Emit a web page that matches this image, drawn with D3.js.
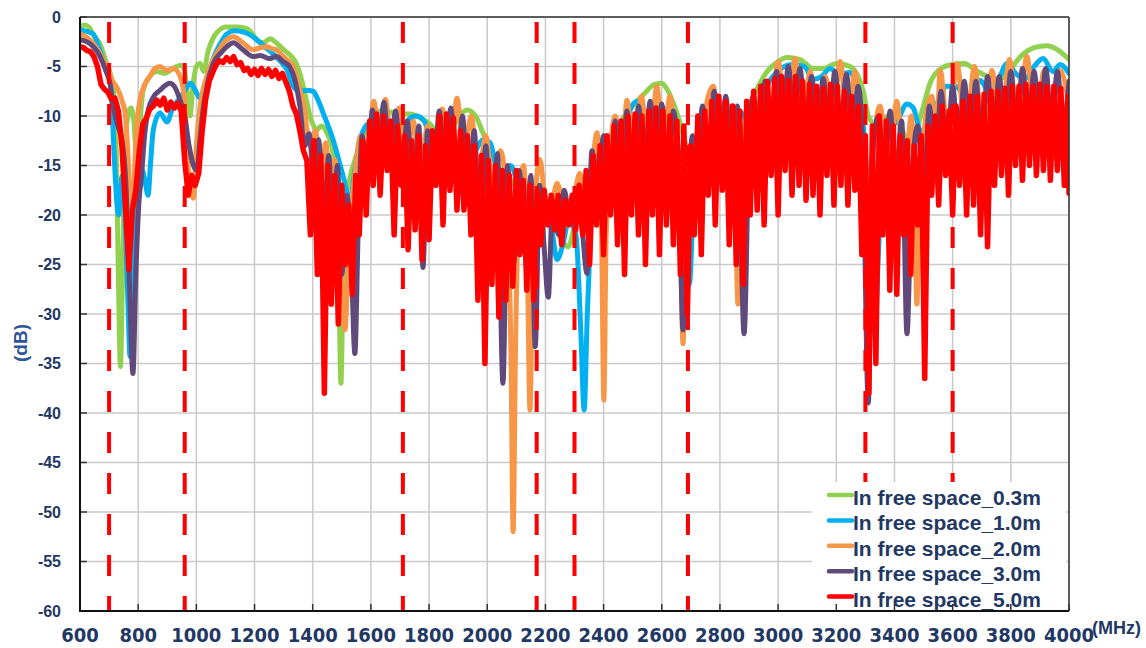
<!DOCTYPE html>
<html>
<head>
<meta charset="utf-8">
<script src="https://cdn.jsdelivr.net/npm/d3@7"></script>
<style>
  html, body { margin: 0; background: #ffffff; }
  svg { display: block; }
</style>
</head>
<body>
<svg id="chart" width="1146" height="648"></svg>
<script>
// Axis ticks
const xTicks = [600, 800, 1000, 1200, 1400, 1600, 1800, 2000, 2200, 2400, 2600, 2800, 3000, 3200, 3400, 3600, 3800, 4000];
const yTicks = [0, -5, -10, -15, -20, -25, -30, -35, -40, -45, -50, -55, -60];

// Band edges marked with dashed red lines (MHz)
const bandEdges = [700, 960, 1710, 2170, 2300, 2690, 3300, 3600];

const seriesNames = ["In free space_0.3m", "In free space_1.0m", "In free space_2.0m", "In free space_3.0m", "In free space_5.0m"];
const seriesColors = ["#92D050", "#00B0F0", "#F79646", "#604A7B", "#FF0000"];

// Measured response, [frequency MHz, level dB]
const space03m = [
  [600,-1.1],[615,-0.8],[630,-1.0],[650,-2.0],[670,-2.8],[690,-4.6],[705,-5.8],[715,-7.5],[725,-14],[733,-28],[739,-35.3],[745,-28],[752,-17],[762,-10.5],[775,-9.2],[785,-10.5],[795,-14],[805,-11],[817,-7.4],[840,-6.0],[864,-5.5],[890,-5.7],[915,-5.3],[944,-4.9],[958,-5.2],[968,-7.5],[978,-10],[988,-7],[1000,-5.0],[1013,-4.7],[1025,-5.5],[1040,-3.5],[1060,-2.0],[1080,-1.3],[1100,-1.0],[1140,-1.0],[1175,-1.2],[1195,-1.8],[1210,-2.4],[1230,-2.6],[1253,-2.2],[1275,-2.6],[1300,-3.3],[1320,-3.8],[1340,-4.5],[1356,-5.7],[1375,-8],[1395,-10.4],[1414,-11.4],[1430,-11],[1450,-11.8],[1468,-13.5],[1480,-17],[1490,-27],[1497,-37],[1504,-27],[1512,-19],[1530,-16],[1550,-14],[1575,-12],[1600,-10.5],[1630,-9.5],[1665,-9.6],[1700,-9.8],[1735,-9.8],[1770,-10.2],[1803,-10.8],[1840,-12],[1880,-11],[1930,-9.4],[1960,-10],[1985,-11.7],[2033,-15],[2080,-16.5],[2130,-18],[2181,-18.8],[2230,-21],[2278,-23.2],[2305,-20.5],[2329,-18.5],[2360,-16.5],[2388,-14.8],[2412,-13.2],[2450,-11],[2500,-9],[2545,-7.6],[2575,-6.8],[2600,-6.7],[2618,-7.3],[2652,-9.7],[2680,-12.5],[2700,-15],[2750,-14.5],[2800,-15],[2845,-16],[2870,-13.5],[2895,-9.5],[2927,-7.3],[2962,-5.5],[3000,-4.5],[3030,-4.1],[3075,-4.3],[3120,-5.2],[3155,-5.2],[3202,-4.7],[3247,-5],[3275,-6],[3292,-7.4],[3310,-10],[3340,-11],[3380,-10],[3420,-11],[3455,-13],[3490,-10],[3525,-6.5],[3560,-5.2],[3600,-4.8],[3640,-4.7],[3680,-5.4],[3720,-6],[3760,-6.3],[3800,-5.2],[3840,-3.8],[3880,-3.1],[3924,-2.9],[3960,-3.3],[4000,-4.3]
];

const space10m = [
  [600,-1.3],[645,-1.7],[670,-3.5],[693,-5.7],[703,-6.4],[710,-9],[716,-13],[725,-18],[733,-20],[740,-17],[746,-16],[755,-20],[765,-29],[772,-34.3],[780,-27],[790,-19],[800,-15],[815,-15.5],[826,-17],[834,-18],[842,-15],[852,-11.4],[875,-9.7],[899,-10.6],[921,-9],[944,-8.2],[965,-7.2],[980,-6.7],[995,-7.3],[1013,-8.2],[1036,-6.4],[1058,-4.2],[1080,-2.8],[1105,-1.7],[1130,-1.4],[1160,-1.5],[1185,-1.8],[1208,-2.3],[1235,-3],[1263,-3.7],[1290,-4.5],[1311,-5.3],[1333,-7],[1356,-7.5],[1380,-7.4],[1401,-7.5],[1420,-8.5],[1436,-9.7],[1470,-12.4],[1504,-16],[1528,-18.5],[1545,-15.5],[1562,-12.4],[1597,-10.7],[1635,-10.8],[1675,-12.5],[1710,-11.5],[1735,-10.2],[1758,-10],[1785,-10.6],[1815,-13.5],[1850,-11.5],[1890,-13],[1930,-14.5],[1960,-13.5],[1985,-12.4],[2010,-12.7],[2040,-16],[2080,-15],[2120,-18],[2160,-17.5],[2200,-19.5],[2222,-21.5],[2240,-24.5],[2260,-23],[2280,-20.5],[2305,-22],[2322,-32],[2333,-39.7],[2344,-30],[2355,-22],[2375,-15],[2400,-12.5],[2430,-12],[2460,-14],[2490,-9.5],[2515,-8.5],[2540,-9.5],[2565,-12.5],[2600,-9.2],[2630,-10],[2660,-14],[2680,-20],[2695,-27],[2710,-18],[2740,-13],[2780,-12],[2815,-12.5],[2845,-10],[2870,-9.6],[2893,-10.5],[2915,-11.5],[2945,-8],[2975,-6.3],[3010,-5.2],[3050,-4.8],[3090,-5.0],[3120,-6.3],[3150,-6.0],[3178,-5.2],[3210,-5.8],[3245,-5.6],[3270,-7],[3293,-11],[3312,-20],[3325,-28],[3333,-32.3],[3342,-26],[3355,-17],[3380,-11.5],[3410,-10.5],[3443,-8.8],[3465,-9.2],[3490,-11.5],[3520,-11],[3550,-8.5],[3580,-7],[3610,-7],[3640,-8],[3665,-8.5],[3694,-6.4],[3730,-7.8],[3760,-6.2],[3787,-4.7],[3820,-5.8],[3850,-6.2],[3880,-5],[3911,-4.2],[3945,-5.5],[3970,-4.8],[4000,-5.7]
];

const space20m = [
  [600,-1.7],[640,-2.5],[669,-3.7],[690,-5],[703,-6.0],[715,-6.6],[730,-7.3],[745,-8.5],[755,-9.6],[765,-14],[775,-20],[785,-17],[795,-11],[806,-8.4],[823,-6.8],[840,-6.0],[858,-5.2],[875,-5.0],[898,-5.4],[921,-5.2],[944,-6.0],[958,-8],[968,-13],[978,-17.5],[990,-18.3],[1000,-13],[1013,-9],[1036,-6],[1058,-4.3],[1085,-3],[1105,-2.3],[1127,-2.0],[1160,-2.6],[1195,-3.3],[1220,-3.1],[1243,-3.0],[1260,-3.2],[1275,-3.3],[1295,-3.9],[1311,-4.3],[1333,-5],[1356,-7.4],[1370,-9],[1390,-13],[1410,-11.5],[1428,-17],[1445,-12.7],[1462,-19],[1477,-14.4],[1495,-24],[1511,-31.6],[1525,-22],[1545,-16],[1565,-12],[1585,-15],[1610,-8.5],[1630,-13],[1650,-8.3],[1672,-14],[1697,-9.2],[1720,-15],[1745,-10.5],[1770,-16],[1795,-11],[1820,-16],[1845,-9.3],[1870,-15],[1896,-8.2],[1920,-14],[1945,-10],[1970,-16],[1995,-12],[2020,-18],[2045,-13.5],[2070,-20],[2082,-35],[2089,-52],[2097,-34],[2110,-18],[2125,-15],[2138,-25],[2147,-39.7],[2156,-25],[2180,-14.4],[2210,-21],[2240,-16.8],[2275,-21],[2300,-18],[2318,-15.8],[2345,-20],[2377,-11.7],[2393,-22],[2401,-38.7],[2409,-22],[2440,-10],[2462,-16],[2480,-8.4],[2505,-15],[2530,-8],[2555,-15],[2583,-7],[2605,-13],[2628,-8],[2650,-16],[2665,-24],[2673,-33],[2681,-24],[2710,-12],[2735,-16],[2755,-8.6],[2777,-7],[2805,-14],[2834,-9],[2852,-18],[2862,-29],[2872,-18],[2890,-13],[2912,-15],[2938,-8.4],[2970,-12],[3000,-4.5],[3030,-11],[3058,-4.2],[3085,-11],[3110,-5.5],[3137,-11],[3162,-6],[3188,-11],[3213,-4.5],[3240,-11],[3264,-5.5],[3285,-13],[3300,-22],[3320,-15],[3350,-9],[3380,-15],[3408,-8.5],[3435,-16],[3458,-10],[3470,-20],[3477,-29],[3484,-20],[3500,-12],[3528,-8],[3545,-12],[3557,-5.4],[3585,-12],[3615,-4.7],[3645,-12],[3675,-5],[3705,-12],[3735,-5.4],[3765,-12],[3795,-4.3],[3825,-11],[3855,-4],[3885,-11],[3915,-5.4],[3945,-12],[3970,-5.4],[4000,-9]
];

const space30m = [
  [600,-2.3],[630,-2.6],[669,-4],[690,-5.5],[703,-6.7],[714,-9],[730,-11],[744,-12.4],[758,-17],[770,-27],[782,-36],[792,-26],[802,-19],[812,-15.8],[822,-12],[830,-10.1],[850,-8.2],[875,-7.4],[909,-6.7],[930,-7.3],[944,-8.4],[960,-10],[975,-13],[990,-15],[1002,-15.5],[1012,-12.5],[1023,-9.4],[1040,-6.5],[1058,-4.7],[1085,-3.6],[1105,-3.0],[1127,-2.6],[1160,-3.3],[1195,-4],[1220,-3.9],[1250,-4.2],[1275,-4],[1298,-4.5],[1320,-5],[1340,-6.5],[1356,-9],[1372,-13],[1388,-11.8],[1405,-17],[1420,-12.4],[1440,-20],[1455,-14],[1470,-22],[1485,-15],[1500,-26],[1518,-18],[1532,-24],[1545,-34],[1556,-22],[1570,-12],[1590,-16],[1605,-9.4],[1625,-14],[1645,-8.6],[1665,-15],[1685,-9.5],[1705,-16],[1725,-10.5],[1745,-18],[1765,-11],[1779,-25.3],[1795,-11.5],[1815,-17],[1835,-9.5],[1855,-16],[1875,-9.2],[1895,-17],[1915,-10],[1935,-19],[1955,-11.5],[1975,-22],[1995,-13],[2015,-24],[2035,-13.8],[2054,-37],[2070,-15],[2090,-25],[2110,-15.5],[2130,-24],[2150,-16],[2165,-33.3],[2180,-17],[2195,-23],[2210,-28.3],[2225,-18.5],[2245,-22],[2265,-17.5],[2285,-21],[2305,-17.5],[2325,-21],[2343,-25.9],[2360,-13.5],[2380,-18],[2400,-12],[2420,-19],[2440,-10.5],[2460,-18],[2480,-9.5],[2500,-17],[2520,-9],[2540,-16],[2560,-8.5],[2580,-16],[2600,-8.8],[2620,-17],[2640,-9.5],[2660,-18],[2673,-31.6],[2690,-20],[2705,-12],[2720,-16],[2740,-9],[2760,-15],[2780,-7.5],[2800,-14],[2820,-8],[2840,-15],[2860,-9],[2883,-32],[2900,-13],[2915,-8],[2935,-13],[2955,-6.5],[2975,-12],[2995,-5.5],[3015,-11],[3035,-5],[3055,-11],[3075,-5.2],[3095,-11],[3115,-6],[3135,-12],[3155,-6.2],[3175,-12],[3195,-5.5],[3215,-11],[3235,-5.8],[3255,-12],[3275,-7],[3292,-14],[3310,-39],[3325,-14],[3345,-10],[3365,-16],[3385,-9.5],[3405,-16],[3425,-10.5],[3443,-32],[3460,-16],[3480,-11],[3500,-18],[3520,-9],[3540,-16],[3560,-7.5],[3580,-14],[3600,-7],[3620,-13],[3640,-6.5],[3660,-13],[3680,-6.5],[3700,-13],[3720,-6],[3740,-12],[3760,-6],[3780,-12],[3800,-5.5],[3820,-12],[3840,-5.2],[3860,-11],[3880,-5.5],[3900,-11],[3920,-5.2],[3940,-11],[3960,-5.5],[3980,-11],[4000,-6.5]
];

const space50m = [
  [600,-3.0],[612,-3.1],[624,-3.4],[636,-3.5],[648,-4.0],[660,-5.0],[672,-6.8],[684,-7.3],[696,-7.6],[708,-8.3],[720,-8.2],[732,-9.5],[744,-13],[756,-19],[768,-25.5],[780,-19.5],[792,-17.5],[804,-13.5],[816,-10.8],[828,-10.2],[840,-9.3],[852,-9.0],[864,-8.4],[876,-8.9],[888,-8.2],[900,-9.4],[912,-8.6],[924,-9.2],[936,-8.7],[948,-9.5],[960,-14.5],[972,-18],[984,-16],[996,-17],[1008,-15.8],[1020,-11.5],[1032,-8.3],[1044,-6.5],[1056,-5.6],[1068,-4.8],[1080,-4.4],[1092,-4.6],[1104,-4.1],[1116,-4.5],[1128,-4.0],[1140,-4.8],[1152,-4.6],[1164,-5.4],[1176,-5.2],[1188,-5.8],[1200,-5.3],[1212,-5.9],[1224,-5.2],[1236,-5.8],[1248,-5.3],[1260,-6.0],[1272,-5.4],[1284,-6.2],[1296,-5.7],[1308,-6.6],[1320,-7.5],[1332,-9.0],[1344,-9.8],[1356,-11.5],[1368,-13.5],[1380,-14.5],
  [1392,-22],[1404,-12.5],[1416,-26],[1428,-14],[1440,-38],[1452,-15],[1464,-29],[1476,-16],[1488,-31],[1500,-17],[1512,-25],[1524,-19],[1536,-28],[1548,-16],[1560,-22],[1572,-12.5],[1584,-20],[1596,-10.5],[1608,-17],[1620,-9.8],[1632,-18],[1644,-10],[1656,-15.5],[1668,-10.5],[1680,-22],[1692,-11],[1704,-17],[1716,-12],[1728,-23.5],[1740,-12.5],[1752,-21.5],[1764,-12],[1776,-24.5],[1788,-13],[1800,-22.5],
  [1812,-11.5],[1824,-17],[1836,-10],[1848,-21],[1860,-9.8],[1872,-17.5],[1884,-10.2],[1896,-19.5],[1908,-11.5],[1920,-19.5],[1932,-12],[1944,-22],[1956,-13],[1968,-28.6],[1980,-14],[1992,-35],[2004,-14.5],[2016,-27],[2028,-15],[2040,-30.3],[2052,-15.5],[2064,-28.6],[2076,-16],[2088,-27.2],[2100,-15.5],[2112,-24],[2124,-16.5],[2136,-27.6],[2148,-17],[2160,-28.6],[2172,-17.5],[2184,-23],[2196,-17.5],[2208,-21],[2220,-18],[2232,-21.5],[2244,-18],[2256,-23],[2268,-18.5],[2280,-21],[2292,-18],[2304,-21.5],
  [2316,-17],[2328,-22],[2340,-15.5],[2352,-25],[2364,-14],[2376,-21],[2388,-13],[2400,-24],[2412,-12],[2424,-20],[2436,-11],[2448,-23],[2460,-10.5],[2472,-26],[2484,-10],[2496,-20],[2508,-9.8],[2520,-22],[2532,-10],[2544,-25],[2556,-9.5],[2568,-20],[2580,-9.2],[2592,-24],[2604,-9.5],[2616,-21],[2628,-10],[2640,-23],[2652,-10.5],[2664,-26],[2676,-11],[2688,-30],[2700,-13],
  [2712,-22],[2724,-10],[2736,-24],[2748,-9.5],[2760,-18],[2772,-8.5],[2784,-21],[2796,-8],[2808,-17.5],[2820,-8.5],[2832,-23],[2844,-9],[2856,-25],[2868,-9.5],[2880,-27],[2892,-8.5],[2904,-20],[2916,-7.5],[2928,-19.5],[2940,-7],[2952,-21],[2964,-6.5],[2976,-16],[2988,-6.2],[3000,-20],[3012,-6],[3024,-15.5],[3036,-6.4],[3048,-18],[3060,-6],[3072,-17],[3084,-6.5],[3096,-18.5],[3108,-6.8],[3120,-18],[3132,-7],[3144,-20],[3156,-7.2],[3168,-16],[3180,-6.8],[3192,-19],[3204,-7],[3216,-17],[3228,-7.5],[3240,-19],[3252,-8],[3264,-17.5],[3276,-9],[3288,-24],[3300,-12],
  [3312,-38],[3324,-11],[3336,-35],[3348,-10],[3360,-22],[3372,-10.5],[3384,-27.6],[3396,-11],[3408,-28],[3420,-12],[3432,-22],[3444,-12.5],[3456,-26],[3468,-13],[3480,-21],[3492,-12],[3504,-36.5],[3516,-11],[3528,-18],[3540,-10],[3552,-19],[3564,-9],[3576,-16],[3588,-9.5],[3600,-20],
  [3612,-9],[3624,-17],[3636,-8.5],[3648,-20],[3660,-8],[3672,-19],[3684,-8],[3696,-22],[3708,-7.8],[3720,-23.2],[3732,-7.5],[3744,-17],[3756,-7.5],[3768,-16],[3780,-7.2],[3792,-18],[3804,-7],[3816,-15],[3828,-7],[3840,-16.5],[3852,-6.8],[3864,-15],[3876,-7],[3888,-16],[3900,-6.8],[3912,-15.5],[3924,-7],[3936,-16.5],[3948,-7],[3960,-15.5],[3972,-7.2],[3984,-17],[3996,-8],[4000,-17.8]
];

const seriesData = [space03m, space10m, space20m, space30m, space50m];

// Plot frame
const plot = { left: 80, right: 1069, top: 17, bottom: 611 };
const x = d3.scaleLinear().domain([600, 4000]).range([plot.left, plot.right]);
const y = d3.scaleLinear().domain([-60, 0]).range([plot.bottom, plot.top]);

const svg = d3.select("#chart");
const labelColor = "#1F3864";

svg.append("defs").append("clipPath").attr("id", "plot-clip")
  .append("rect")
  .attr("x", plot.left).attr("y", plot.top - 3)
  .attr("width", plot.right - plot.left).attr("height", plot.bottom - plot.top + 3);

// Grid lines
const grid = svg.append("g");
grid.selectAll("line.vx").data(xTicks).join("line")
  .attr("x1", d => x(d)).attr("x2", d => x(d))
  .attr("y1", plot.top).attr("y2", plot.bottom)
  .attr("stroke", "#c9c9c9").attr("stroke-width", 1.5);
grid.selectAll("line.hy").data(yTicks).join("line")
  .attr("x1", plot.left).attr("x2", plot.right)
  .attr("y1", d => y(d)).attr("y2", d => y(d))
  .attr("stroke", "#c9c9c9").attr("stroke-width", 1.5);

// Curves
const line = d3.line()
  .x(d => x(d[0])).y(d => y(d[1]));

const curves = svg.append("g").attr("clip-path", "url(#plot-clip)");
seriesData.forEach((data, i) => {
  curves.append("path")
    .datum(data)
    .attr("fill", "none")
    .attr("stroke", seriesColors[i])
    .attr("stroke-width", i === 4 ? 5.5 : 5)
    .attr("stroke-linejoin", "round")
    .attr("stroke-linecap", "round")
    .attr("d", line.curve(i === 4 ? d3.curveLinear : d3.curveMonotoneX));
});

// Band edge markers
svg.append("g").selectAll("line").data(bandEdges).join("line")
  .attr("x1", d => x(d)).attr("x2", d => x(d))
  .attr("y1", 22).attr("y2", plot.bottom)
  .attr("stroke", "#FF0000").attr("stroke-width", 4)
  .attr("stroke-dasharray", "21,20");

// Legend
const legend = svg.append("g");
legend.append("rect")
  .attr("x", 812).attr("y", 482)
  .attr("width", 254).attr("height", plot.bottom - 482)
  .attr("fill", "#ffffff");
seriesNames.forEach((name, i) => {
  const cy = 495 + i * 25.4;
  legend.append("line")
    .attr("x1", 829).attr("x2", 852)
    .attr("y1", cy).attr("y2", cy)
    .attr("stroke", seriesColors[i]).attr("stroke-width", 4.5)
    .attr("stroke-linecap", "round");
  legend.append("text")
    .attr("x", 853).attr("y", cy + 10)
    .attr("font-family", "'Liberation Sans', Arial, sans-serif")
    .attr("font-weight", "bold").attr("font-size", 21)
    .attr("fill", labelColor)
    .text(name);
});

// Frame and inner ticks
const frame = svg.append("g");
frame.selectAll("line.tx").data(xTicks).join("line")
  .attr("x1", d => x(d)).attr("x2", d => x(d))
  .attr("y1", plot.bottom).attr("y2", plot.bottom - 7)
  .attr("stroke", "#333").attr("stroke-width", 1.5);
frame.selectAll("line.ty").data(yTicks).join("line")
  .attr("x1", plot.left).attr("x2", plot.left + 7)
  .attr("y1", d => y(d)).attr("y2", d => y(d))
  .attr("stroke", "#333").attr("stroke-width", 1.5);
frame.append("line")
  .attr("x1", plot.left).attr("x2", plot.right)
  .attr("y1", plot.top).attr("y2", plot.top)
  .attr("stroke", "#333").attr("stroke-width", 1.5);
frame.append("line")
  .attr("x1", plot.right).attr("x2", plot.right)
  .attr("y1", plot.top).attr("y2", plot.bottom)
  .attr("stroke", "#333").attr("stroke-width", 1.5);
frame.append("line")
  .attr("x1", plot.left).attr("x2", plot.left)
  .attr("y1", plot.top).attr("y2", plot.bottom + 1)
  .attr("stroke", "#111").attr("stroke-width", 2);
frame.append("line")
  .attr("x1", plot.left - 1).attr("x2", plot.right)
  .attr("y1", plot.bottom).attr("y2", plot.bottom)
  .attr("stroke", "#111").attr("stroke-width", 2);

// Tick labels
svg.append("g").selectAll("text").data(xTicks).join("text")
  .attr("x", d => x(d)).attr("y", 642)
  .attr("text-anchor", "middle")
  .attr("font-family", "'Liberation Sans Narrow', 'Arial Narrow', 'DejaVu Sans Condensed', sans-serif")
  .attr("font-weight", "bold").attr("font-size", 20)
  .attr("fill", labelColor)
  .text(d => d);

svg.append("g").selectAll("text").data(yTicks).join("text")
  .attr("x", 61).attr("y", d => y(d)).attr("dy", "0.36em")
  .attr("text-anchor", "end")
  .attr("font-family", "'Liberation Sans', Arial, sans-serif")
  .attr("font-weight", "bold").attr("font-size", 16)
  .attr("fill", labelColor)
  .text(d => d);

// Axis titles
svg.append("text")
  .attr("x", 1092).attr("y", 634)
  .attr("font-family", "'Liberation Sans', Arial, sans-serif")
  .attr("font-weight", "bold").attr("font-size", 18)
  .attr("fill", labelColor)
  .text("(MHz)");

svg.append("text")
  .attr("transform", "translate(27,343) rotate(-90)")
  .attr("text-anchor", "middle")
  .attr("font-family", "'Liberation Sans', Arial, sans-serif")
  .attr("font-weight", "bold").attr("font-size", 19)
  .attr("fill", "#2F5597")
  .text("(dB)");
</script>
</body>
</html>
